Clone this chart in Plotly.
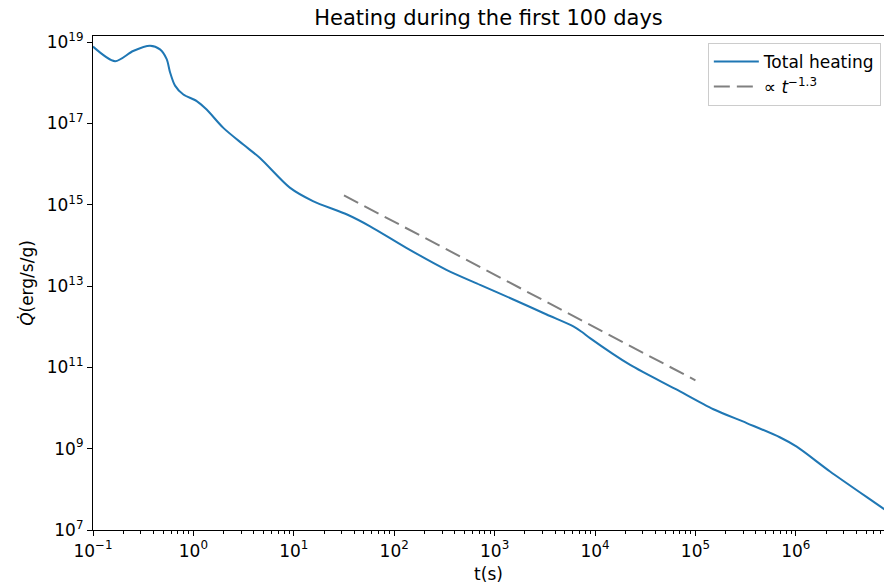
import plotly.graph_objects as go

# Total heating curve
t_s = [0.1, 0.166, 0.251, 0.370, 0.465, 0.542, 0.585, 0.656, 0.794, 1.079, 1.355, 1.986,
       3.14, 4.60, 9.12, 15.5, 33.9, 57.5, 132, 331, 716, 1535, 3296, 6081, 7413, 8913,
       2.24e4, 6.31e4, 1.51e5, 3.24e5, 6.92e5, 1.02e6, 2.19e6, 7.59e6, 8.64e6]
q_total = [7.76e18, 3.39e18, 6.03e18, 8.13e18, 6.61e18, 3.80e18, 1.82e18, 8.51e17, 5.13e17,
           3.55e17, 2.19e17, 7.76e16, 3.02e16, 1.41e16, 2.63e15, 1.23e15, 5.75e14, 2.95e14,
           8.71e13, 2.51e13, 1.07e13, 4.68e12, 2.0e12, 1.02e12, 7.4e11, 5.25e11, 1.15e11,
           2.95e10, 9.33e9, 4.27e9, 1.91e9, 1.12e9, 2.75e8, 3.24e7, 2.57e7]

# Power-law guide  ∝ t^-1.3
t_fit = [31.6, 1.0e5]
q_fit = [1.7e15, 4.8e10]

x_major = [1e-1, 1e0, 1e1, 1e2, 1e3, 1e4, 1e5, 1e6]
x_major_text = ["10<sup>−1</sup>", "10<sup>0</sup>", "10<sup>1</sup>", "10<sup>2</sup>",
                "10<sup>3</sup>", "10<sup>4</sup>", "10<sup>5</sup>", "10<sup>6</sup>"]
y_major = [1e7, 1e9, 1e11, 1e13, 1e15, 1e17, 1e19]
y_major_text = ["10<sup>7</sup>", "10<sup>9</sup>", "10<sup>11</sup>", "10<sup>13</sup>",
                "10<sup>15</sup>", "10<sup>17</sup>", "10<sup>19</sup>"]

x_minor = [m * d for d in x_major + [1e7] for m in range(2, 10)]

FONT = "DejaVu Sans"

fig = go.Figure()
fig.add_trace(go.Scatter(
    x=t_s, y=q_total, mode="lines", name="Total heating",
    line=dict(color="#1f77b4", width=2, shape="spline", smoothing=0.8),
))
fig.add_trace(go.Scatter(
    x=t_fit, y=q_fit, mode="lines", name="∝ <i>t</i><sup>−1.3</sup>",
    line=dict(color="#808080", width=2, dash="16px,7px"),
))

fig.update_layout(
    width=884, height=588,
    margin=dict(l=93, r=0, t=36, b=58),
    paper_bgcolor="white", plot_bgcolor="white",
    font=dict(family=FONT, size=17, color="black"),
    title=dict(text="Heating during the first 100 days", x=0.5, xref="paper",
               y=1 - 18 / 588, yref="container", xanchor="center", yanchor="middle",
               font=dict(size=21, family=FONT, color="black")),
    showlegend=True,
    legend=dict(x=0.996, y=0.986, xanchor="right", yanchor="top",
                bgcolor="rgba(255,255,255,0.8)", bordercolor="#cccccc", borderwidth=1,
                font=dict(size=17, family=FONT), tracegroupgap=0, itemwidth=45),
)
fig.update_xaxes(
    type="log", range=[-1, 6.878],
    tickmode="array", tickvals=x_major, ticktext=x_major_text,
    ticks="outside", ticklen=5, tickwidth=1.2, tickcolor="black",
    showline=True, linecolor="black", linewidth=1.2, mirror=True,
    showgrid=False, zeroline=False,
    minor=dict(tickmode="array", tickvals=x_minor, ticks="outside", ticklen=3,
               tickwidth=1, tickcolor="black", showgrid=False),
    title=dict(text="t(s)", standoff=8, font=dict(size=17, family=FONT)),
)
fig.update_yaxes(
    type="log", range=[7, 19.15],
    tickmode="array", tickvals=y_major, ticktext=y_major_text,
    ticks="outside", ticklen=5, tickwidth=1.2, tickcolor="black",
    showline=True, linecolor="black", linewidth=1.2, mirror=False,
    showgrid=False, zeroline=False,
    title=dict(text="<i>Q̇</i>(erg/s/g)", standoff=8, font=dict(size=17, family=FONT)),
)

fig.write_html("out.html")
